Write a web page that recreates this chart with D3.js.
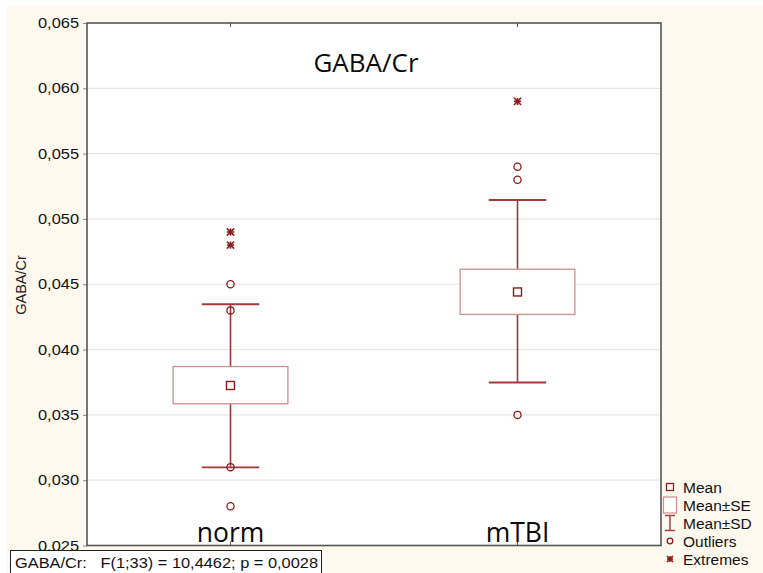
<!DOCTYPE html>
<html><head><meta charset="utf-8">
<script src="https://cdn.jsdelivr.net/npm/d3@7"></script>
<style>body{margin:0;background:#fff}svg{display:block}</style>
</head><body>
<script>
const groups = ["norm", "mTBI"];
const means = [0.03725, 0.04441];
const seLow = [0.03585, 0.04269];
const seHigh = [0.0387, 0.04615];
const sdLow = [0.03098, 0.03748];
const sdHigh = [0.04347, 0.05145];
const outliers = [[0.028, 0.031, 0.043, 0.045], [0.035, 0.053, 0.054]];
const extremes = [[0.048, 0.049], [0.059]];
const yTicks = [0.025, 0.030, 0.035, 0.040, 0.045, 0.050, 0.055, 0.060, 0.065];
const legendLabels = ["Mean", "Mean±SE", "Mean±SD", "Outliers", "Extremes"];
const titleText = "GABA/Cr";
const yLabel = "GABA/Cr";
const statsText = "GABA/Cr:   F(1;33) = 10,4462; p = 0,0028";

const W = 763, H = 573;
const L = 87, R = 661, T = 23, B = 545.5;
const dark = "#8b1c1c", whisk = "#a23a3c", boxc = "#cf8f8f";

const svg = d3.select("body").append("svg").attr("width", W).attr("height", H);
svg.append("rect").attr("width", W).attr("height", H).attr("fill", "#fff");
svg.append("rect").attr("x", 7).attr("y", 6).attr("width", W - 7).attr("height", H - 6).attr("fill", "#fef9ee");
svg.append("rect").attr("x", L).attr("y", T).attr("width", R - L).attr("height", B - T).attr("fill", "#fff");

const x = d3.scaleBand().domain(groups).range([L, R]).padding(0);
const y = d3.scaleLinear().domain([0.025, 0.065]).range([B, T]);
const loc = d3.formatLocale({decimal: ",", thousands: ".", grouping: [3], currency: ["", ""]});
const fmt = loc.format(".3f");

// gridlines
svg.append("g").selectAll("line").data(yTicks.slice(1, -1)).join("line")
  .attr("x1", L).attr("x2", R).attr("y1", d => y(d)).attr("y2", d => y(d))
  .attr("stroke", "#e6e6e6").attr("stroke-width", 1.2);

// y axis
const ya = svg.append("g").attr("transform", `translate(${L},0)`)
  .call(d3.axisLeft(y).tickValues(yTicks).tickFormat(fmt).tickSize(4).tickPadding(4));
ya.select(".domain").remove();
ya.selectAll(".tick line").attr("stroke", "#888");
ya.selectAll(".tick text").attr("font-family", "Liberation Sans, Arial, sans-serif")
  .attr("font-size", 14.5).attr("fill", "#111").attr("textLength", 41).attr("lengthAdjust", "spacingAndGlyphs");

// category ticks top and bottom (inward)
const xb = svg.append("g").attr("transform", `translate(0,${B})`)
  .call(d3.axisTop(x).tickSize(4).tickFormat(""));
xb.select(".domain").remove();
xb.selectAll(".tick line").attr("stroke", "#555");
const xt = svg.append("g").attr("transform", `translate(0,${T})`)
  .call(d3.axisBottom(x).tickSize(4).tickFormat(""));
xt.select(".domain").remove();
xt.selectAll(".tick line").attr("stroke", "#555");

// frame
svg.append("rect").attr("x", L).attr("y", T).attr("width", R - L).attr("height", B - T)
  .attr("fill", "none").attr("stroke", "#555").attr("stroke-width", 1.6);

// category labels
svg.append("g").selectAll("text").data(groups).join("text")
  .attr("x", d => x(d) + x.bandwidth() / 2).attr("y", 541.5)
  .attr("text-anchor", "middle").attr("font-family", "Open Sans, sans-serif")
  .attr("font-size", 26.5).attr("fill", "#0a0a0a").text(d => d);

// title
svg.append("text").attr("x", 366).attr("y", 72.3).attr("text-anchor", "middle")
  .attr("font-family", "Open Sans, sans-serif").attr("font-size", 26).attr("fill", "#0a0a0a").text(titleText);

// y label
svg.append("text").attr("transform", "translate(26,285) rotate(-90)").attr("text-anchor", "middle")
  .attr("font-family", "Liberation Sans, Arial, sans-serif").attr("font-size", 14.5).attr("fill", "#222").text(yLabel);

const cx = i => x(groups[i]) + x.bandwidth() / 2;
const boxW = x.bandwidth() * 0.4, capW = x.bandwidth() * 0.2;

function asterisk(g, px, py, r, col) {
  const s = g.append("g").attr("stroke", col).attr("stroke-width", 1.6);
  s.append("line").attr("x1", px - r).attr("x2", px + r).attr("y1", py - r).attr("y2", py + r);
  s.append("line").attr("x1", px - r).attr("x2", px + r).attr("y1", py + r).attr("y2", py - r);
  s.append("line").attr("x1", px - r).attr("x2", px + r).attr("y1", py).attr("y2", py);
  s.append("line").attr("x1", px).attr("x2", px).attr("y1", py - r).attr("y2", py + r);
}

groups.forEach((gname, i) => {
  const g = svg.append("g");
  const c = cx(i);
  // whiskers
  g.append("line").attr("x1", c).attr("x2", c).attr("y1", y(sdHigh[i])).attr("y2", y(seHigh[i]))
    .attr("stroke", whisk).attr("stroke-width", 1.6);
  g.append("line").attr("x1", c).attr("x2", c).attr("y1", y(seLow[i])).attr("y2", y(sdLow[i]))
    .attr("stroke", whisk).attr("stroke-width", 1.6);
  [sdHigh[i], sdLow[i]].forEach(v => g.append("line").attr("x1", c - capW / 2).attr("x2", c + capW / 2)
    .attr("y1", y(v)).attr("y2", y(v)).attr("stroke", whisk).attr("stroke-width", 1.8));
  // SE box
  g.append("rect").attr("x", c - boxW / 2).attr("width", boxW).attr("y", y(seHigh[i]))
    .attr("height", y(seLow[i]) - y(seHigh[i])).attr("fill", "#fff").attr("stroke", boxc).attr("stroke-width", 1.3);
  // mean
  g.append("rect").attr("x", c - 4).attr("y", y(means[i]) - 4).attr("width", 8).attr("height", 8)
    .attr("fill", "#fff").attr("stroke", dark).attr("stroke-width", 1.4);
  // outliers
  g.selectAll("circle").data(outliers[i]).join("circle").attr("cx", c).attr("cy", d => y(d)).attr("r", 3.6)
    .attr("fill", "none").attr("stroke", dark).attr("stroke-width", 1.3);
  extremes[i].forEach(v => asterisk(g, c, y(v), 3.6, dark));
});

// legend
const lg = svg.append("g");
const lx = 670, rows = [487, 505, 523, 541, 559];
lg.append("rect").attr("x", lx - 3.5).attr("y", rows[0] - 3.5).attr("width", 7).attr("height", 7)
  .attr("fill", "#fff").attr("stroke", dark).attr("stroke-width", 1.3);
lg.append("rect").attr("x", lx - 6.5).attr("y", rows[1] - 8).attr("width", 13).attr("height", 16)
  .attr("fill", "#fff").attr("stroke", boxc).attr("stroke-width", 1.2);
lg.append("line").attr("x1", lx).attr("x2", lx).attr("y1", rows[2] - 7.5).attr("y2", rows[2] + 7.5).attr("stroke", whisk).attr("stroke-width", 1.4);
lg.append("line").attr("x1", lx - 5).attr("x2", lx + 5).attr("y1", rows[2] - 7.5).attr("y2", rows[2] - 7.5).attr("stroke", whisk).attr("stroke-width", 1.4);
lg.append("line").attr("x1", lx - 5).attr("x2", lx + 5).attr("y1", rows[2] + 7.5).attr("y2", rows[2] + 7.5).attr("stroke", whisk).attr("stroke-width", 1.4);
lg.append("circle").attr("cx", lx).attr("cy", rows[3]).attr("r", 2.8).attr("fill", "none").attr("stroke", dark).attr("stroke-width", 1.3);
asterisk(lg, lx, rows[4], 3, dark);
lg.selectAll("text").data(legendLabels).join("text")
  .attr("x", 683).attr("y", (d, i) => rows[i] + 5.5).attr("font-family", "Liberation Sans, Arial, sans-serif")
  .attr("font-size", 15.5).attr("fill", "#111").text(d => d);

// stats box
svg.append("rect").attr("x", 10.5).attr("y", 550.5).attr("width", 311).attr("height", 24)
  .attr("fill", "#fff").attr("stroke", "#222").attr("stroke-width", 1);
svg.append("text").attr("x", 15).attr("y", 567.5).attr("font-family", "Liberation Sans, Arial, sans-serif")
  .attr("font-size", 15).attr("fill", "#111").attr("textLength", 303).attr("lengthAdjust", "spacingAndGlyphs")
  .attr("xml:space", "preserve").style("white-space", "pre").text(statsText);
</script>
</body></html>
